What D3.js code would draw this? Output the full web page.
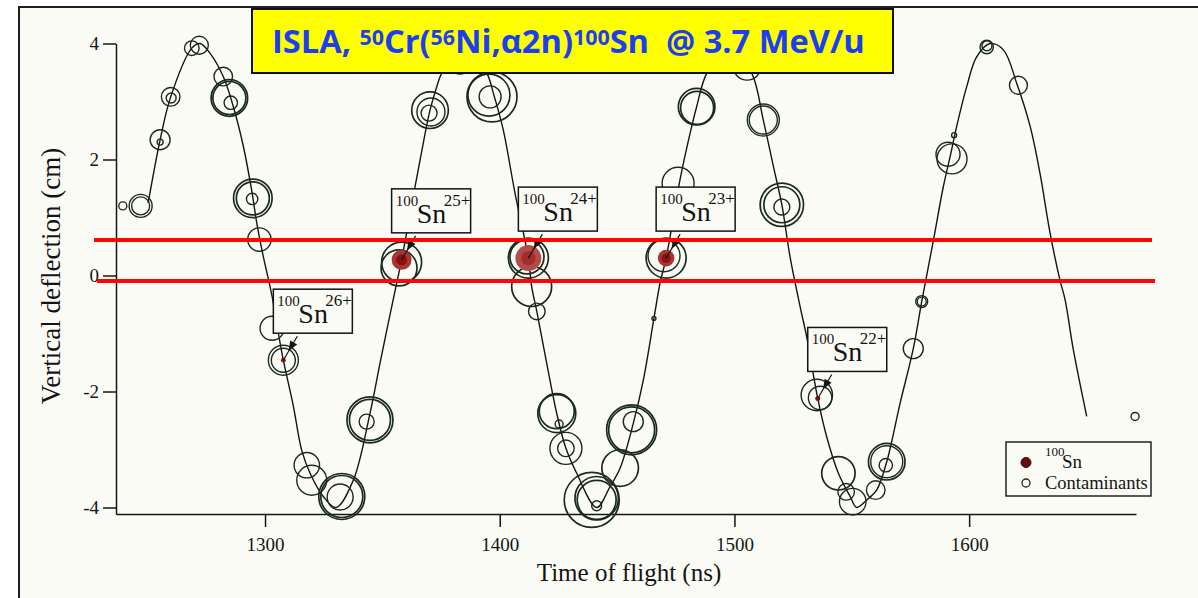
<!DOCTYPE html>
<html>
<head>
<meta charset="utf-8">
<script src="https://cdn.jsdelivr.net/npm/d3@7"></script>
<style>
  html, body { margin: 0; padding: 0; background: #ffffff; }
  svg { display: block; }
  text { white-space: pre; }
</style>
</head>
<body>
<svg id="chart" width="1198" height="598"></svg>
<script>
// ---- axis ticks ----
const xTicks = [1300, 1400, 1500, 1600];
const yTicks = [-4, -2, 0, 2, 4];

// ---- separator transmission curve: time of flight (ns) vs vertical deflection (cm) ----
const orbitTof = [1250.2, 1255.3, 1259.8, 1268.8, 1272.3, 1276.6, 1282.2, 1286.5, 1290.8, 1294.3,
  1296.5, 1299.3, 1302.9, 1305.7, 1307.8, 1312.1, 1315.6, 1319.2, 1324.8, 1330.3,
  1337.6, 1344.7, 1349.0, 1352.5, 1356.1, 1358.2, 1363.9, 1367.4, 1370.3, 1373.2,
  1375.3, 1384.8, 1394.5, 1397.3, 1401.5, 1406.5, 1412.2, 1413.6, 1415.8, 1420.0,
  1424.3, 1428.2, 1432.8, 1441.3, 1447.0, 1451.3, 1456.9, 1461.2, 1465.7, 1468.3,
  1470.9, 1476.8, 1481.1, 1483.9, 1488.2, 1497.7, 1507.4, 1512.3, 1516.6, 1520.2,
  1523.7, 1528.0, 1530.8, 1535.5, 1539.3, 1544.3, 1549.3, 1552.1, 1556.4, 1560.6,
  1564.9, 1570.6, 1576.2, 1579.8, 1584.8, 1589.0, 1591.9, 1594.7, 1599.0, 1603.2,
  1608.9, 1614.6, 1620.3, 1626.0, 1630.2, 1634.5, 1638.7, 1640.9, 1644.4, 1650.1];
const orbitDefl = [1.25, 2.34, 3.08, 3.92, 4.00, 3.83, 3.43, 2.91, 2.22, 1.47,
  0.90, 0.32, -0.34, -1.00, -1.46, -2.26, -3.01, -3.41, -3.81, -4.00,
  -3.53, -2.38, -1.51, -0.82, -0.13, 0.27, 1.53, 2.28, 2.85, 3.26,
  3.49, 4.00, 3.49, 3.14, 2.51, 1.42, 0.30, -0.19, -0.62, -1.51,
  -2.38, -2.98, -3.41, -4.00, -3.64, -3.32, -2.55, -1.80, -0.74, -0.13,
  0.30, 1.65, 2.45, 2.91, 3.49, 4.00, 3.49, 2.68, 1.88, 1.22,
  0.32, -0.54, -1.06, -2.12, -2.78, -3.41, -3.81, -4.00, -3.87, -3.70,
  -3.21, -2.20, -1.26, -0.45, 0.61, 1.53, 2.05, 2.57, 3.26, 3.77,
  4.00, 3.89, 3.31, 2.57, 1.76, 0.73, -0.08, -0.42, -1.28, -2.43];

// ---- contaminant events: [tof (ns), deflection (cm), intensity] ----
const contaminants = [
  [1239.4, 1.20, 2.0], [1247.0, 1.20, 5.75], [1247.0, 1.20, 4.5],
  [1255.3, 2.34, 5.0], [1255.3, 2.30, 1.5], [1259.8, 3.08, 4.65], [1260.0, 3.06, 2.5],
  [1268.8, 3.92, 3.65], [1272.0, 3.97, 4.5], [1282.2, 3.43, 4.65],
  [1284.8, 3.06, 9.15], [1284.8, 3.06, 8.25], [1285.4, 2.98, 3.35],
  [1294.8, 1.33, 9.65], [1294.8, 1.33, 8.25], [1294.5, 1.32, 2.85], [1297.6, 0.62, 5.85],
  [1303.0, -0.91, 6.0], [1307.8, -1.46, 7.5], [1307.8, -1.46, 6.0],
  [1317.8, -3.27, 6.35], [1319.9, -3.53, 7.5],
  [1332.7, -3.81, 11.5], [1332.7, -3.81, 10.5], [1332.0, -3.82, 6.5],
  [1344.7, -2.49, 11.5], [1344.7, -2.49, 10.25], [1343.3, -2.52, 3.75],
  [1358.2, 0.23, 10.0], [1357.1, 0.13, 9.0],
  [1370.3, 2.85, 9.15], [1370.7, 2.82, 7.0], [1369.9, 2.80, 4.0], [1383.1, 3.68, 6.0],
  [1396.7, 3.08, 12.5], [1395.4, 3.11, 10.5], [1395.9, 3.08, 5.5],
  [1412.2, 0.30, 10.0], [1411.6, 0.32, 8.5], [1413.6, -0.19, 10.0], [1415.8, -0.62, 4.15],
  [1424.3, -2.38, 9.5], [1424.3, -2.34, 8.75], [1425.3, -2.56, 2.0],
  [1428.2, -2.98, 8.0], [1428.2, -2.98, 4.15],
  [1439.2, -3.87, 13.75], [1441.3, -3.84, 10.85], [1441.3, -3.87, 9.75], [1441.3, -3.97, 2.5],
  [1451.3, -3.32, 9.15], [1456.2, -2.66, 12.5], [1456.2, -2.66, 11.5], [1456.9, -2.52, 5.0],
  [1465.7, -0.74, 1.0], [1470.9, 0.30, 10.0], [1470.0, 0.34, 8.0], [1476.0, 1.59, 8.0],
  [1483.9, 2.91, 9.15], [1484.1, 2.89, 8.25], [1505.4, 3.61, 7.0],
  [1512.3, 2.68, 8.0], [1512.3, 2.68, 7.0],
  [1520.2, 1.22, 10.85], [1520.2, 1.22, 9.0], [1520.2, 1.18, 4.0],
  [1535.1, -2.06, 7.85], [1536.5, -2.11, 5.85],
  [1544.3, -3.41, 8.35], [1547.6, -3.73, 4.15], [1550.4, -3.90, 6.65], [1560.2, -3.70, 4.65],
  [1564.9, -3.21, 9.15], [1564.9, -3.21, 8.0], [1564.5, -3.27, 3.35],
  [1576.2, -1.26, 5.0], [1579.8, -0.45, 3.0], [1579.8, -0.45, 2.25],
  [1592.7, 2.01, 7.5], [1591.0, 2.09, 6.0], [1593.6, 2.42, 1.25],
  [1607.5, 3.94, 3.35], [1607.6, 3.96, 2.5], [1621.0, 3.28, 4.5],
  [1670.7, -2.43, 2.0]
];

// ---- 100Sn events per charge state ----
const snCharge = ["26+", "25+", "24+", "23+", "22+"];
const snTof = [1307.8, 1358.2, 1412.2, 1470.9, 1535.5];
const snDefl = [-1.46, 0.27, 0.30, 0.30, -2.12];
const snSize = [1.2, 5.0, 6.5, 4.15, 1.25];

// ---- slit acceptance edges (cm) ----
const slitEdges = [0.61, -0.095];

// ---- layout ----
const W = 1198, H = 598;
const bg = "#fbfbf6";
const ink = "#141414";
const ringInk = "#1b2b1b";
const serif = "'Liberation Serif', 'Times New Roman', serif";

const svg = d3.select("#chart");

const x = d3.scaleLinear().domain([1236.5, 1671.1]).range([116, 1136]);
const y = d3.scaleLinear().domain([-4.112, 4]).range([514, 43.5]);
const r = d3.scaleLinear().domain([0, 10]).range([0, 20]);

// page + framed plot panel
svg.append("rect").attr("width", W).attr("height", H).attr("fill", "#ffffff");
svg.append("rect")
  .attr("x", 19).attr("y", 7).attr("width", W).attr("height", H)
  .attr("fill", bg).attr("stroke", "#202020").attr("stroke-width", 2);

// axes
const xAxis = d3.axisBottom(x).tickValues(xTicks).tickSize(13).tickSizeOuter(0).tickPadding(11)
  .tickFormat(d => String(d));
const yAxis = d3.axisLeft(y).tickValues(yTicks).tickSize(13).tickSizeOuter(0).tickPadding(4)
  .tickFormat(d => String(d));

const gx = svg.append("g").attr("transform", `translate(0,${y.range()[0]})`).call(xAxis);
const gy = svg.append("g").attr("transform", `translate(${x.range()[0]},0)`).call(yAxis);
[gx, gy].forEach(g => {
  g.selectAll("path, line").attr("stroke", ink).attr("stroke-width", 1.5);
  g.selectAll("text").attr("fill", ink).attr("font-family", serif).attr("font-size", 19);
});

// axis titles
svg.append("text")
  .attr("x", 629).attr("y", 581)
  .attr("text-anchor", "middle")
  .attr("font-family", serif).attr("font-size", 25).attr("fill", ink)
  .text("Time of flight (ns)");
svg.append("text")
  .attr("transform", "translate(60,276) rotate(-90)")
  .attr("text-anchor", "middle")
  .attr("font-family", serif).attr("font-size", 27).attr("fill", ink)
  .text("Vertical deflection (cm)");

// transmission curve
const orbit = orbitTof.map((t, i) => [t, orbitDefl[i]]);
svg.append("path")
  .datum(orbit)
  .attr("fill", "none")
  .attr("stroke", ink)
  .attr("stroke-width", 1.4)
  .attr("d", d3.line().x(d => x(d[0])).y(d => y(d[1])).curve(d3.curveCatmullRom.alpha(0.5)));

// contaminant rings
svg.append("g").selectAll("circle")
  .data(contaminants)
  .join("circle")
  .attr("cx", d => x(d[0]))
  .attr("cy", d => y(d[1]))
  .attr("r", d => r(d[2]))
  .attr("fill", "none")
  .attr("stroke", ringInk)
  .attr("stroke-width", d => d[2] > 8 ? 1.7 : 1.4);

// 100Sn events
const sn = snCharge.map((c, i) => ({ charge: c, tof: snTof[i], defl: snDefl[i], size: snSize[i] }));
const snG = svg.append("g");
sn.forEach(d => {
  const cx = x(d.tof), cy = y(d.defl), rr = r(d.size);
  if (rr > 5) {
    snG.append("circle").attr("cx", cx).attr("cy", cy).attr("r", rr)
      .attr("fill", rr > 12 ? "#b54a4a" : "#a83434");
    snG.append("circle").attr("cx", cx).attr("cy", cy).attr("r", rr * 0.55)
      .attr("fill", "#8a0c0c").attr("opacity", rr > 12 ? 0.45 : 0.9);
  } else {
    snG.append("circle").attr("cx", cx).attr("cy", cy).attr("r", rr)
      .attr("fill", "#8e0d0d");
  }
});

// charge-state labels with arrows
const boxW = 79, boxH = 44;
sn.forEach(d => {
  const px = x(d.tof), py = y(d.defl);
  const bx = px - 10, by = py - 71;
  const g = svg.append("g");
  g.append("rect").attr("x", bx).attr("y", by).attr("width", boxW).attr("height", boxH)
    .attr("fill", bg).attr("stroke", ink).attr("stroke-width", 1.5);
  g.append("text").attr("x", bx + 4).attr("y", by + 17)
    .attr("font-family", serif).attr("font-size", 15).attr("fill", ink).text("100");
  g.append("text").attr("x", bx + 25).attr("y", by + 34)
    .attr("font-family", serif).attr("font-size", 28).attr("fill", ink).text("Sn");
  g.append("text").attr("x", bx + 52).attr("y", by + 17)
    .attr("font-family", serif).attr("font-size", 17).attr("fill", ink).text(d.charge);

  // arrow from label toward the event
  const sx = bx + 24, sy = by + 47;
  const dx = px - sx, dy = py - sy, len = Math.hypot(dx, dy);
  const ux = dx / len, uy = dy / len;
  g.append("line").attr("x1", sx).attr("y1", sy).attr("x2", px).attr("y2", py)
    .attr("stroke", ink).attr("stroke-width", 1.2);
  const tipX = sx + ux * len * 0.62, tipY = sy + uy * len * 0.62;
  const baseX = tipX - ux * 10, baseY = tipY - uy * 10;
  g.append("path")
    .attr("d", `M${tipX},${tipY} L${baseX - uy * 4},${baseY + ux * 4} L${baseX + uy * 4},${baseY - ux * 4} Z`)
    .attr("fill", ink);
});

// legend
const lg = svg.append("g").attr("transform", "translate(1006,442)");
lg.append("rect").attr("width", 145).attr("height", 54)
  .attr("fill", bg).attr("stroke", ink).attr("stroke-width", 1.4);
lg.append("circle").attr("cx", 20).attr("cy", 20.5).attr("r", 5)
  .attr("fill", "#6e0808").attr("stroke", "#1a1a1a").attr("stroke-width", 1);
lg.append("circle").attr("cx", 20).attr("cy", 41).attr("r", 4)
  .attr("fill", "none").attr("stroke", ringInk).attr("stroke-width", 1.3);
lg.append("text").attr("x", 39).attr("y", 14)
  .attr("font-family", serif).attr("font-size", 13).attr("fill", ink).text("100");
lg.append("text").attr("x", 56).attr("y", 26)
  .attr("font-family", serif).attr("font-size", 19).attr("fill", ink).text("Sn");
lg.append("text").attr("x", 39).attr("y", 47)
  .attr("font-family", serif).attr("font-size", 18.5).attr("fill", ink).text("Contaminants");

// slit acceptance lines
svg.append("g").selectAll("line")
  .data(slitEdges)
  .join("line")
  .attr("x1", (d, i) => x.range()[0] - 22 + i * 3)
  .attr("x2", (d, i) => x.range()[1] + 16 + i * 3)
  .attr("y1", d => y(d)).attr("y2", d => y(d))
  .attr("stroke", "#fe0606").attr("stroke-width", 4);

// title banner
const tg = svg.append("g");
tg.append("rect").attr("x", 252).attr("y", 9).attr("width", 641).attr("height", 64)
  .attr("fill", "#ffff00").attr("stroke", "#111").attr("stroke-width", 2);
const title = tg.append("text")
  .attr("font-family", "'Open Sans', 'Liberation Sans', sans-serif")
  .attr("font-weight", 700).attr("font-size", 32).attr("fill", "#1b3ff0");
const parts = [
  ["ISLA, ", false], ["50", true], ["Cr(", false], ["56", true], ["Ni,α2n)", false],
  ["100", true], ["Sn  @ 3.7 MeV/u", false]
];
let raised = false;
parts.forEach(([s, sup]) => {
  const t = title.append("tspan").text(s);
  if (sup && !raised) { t.attr("dy", -8).attr("font-size", 21); raised = true; }
  else if (!sup && raised) { t.attr("dy", 8); raised = false; }
  else if (sup) { t.attr("font-size", 21); }
});
const tw = title.node().getComputedTextLength();
title.attr("transform", `translate(272,53) scale(${593 / tw},1)`);
</script>
</body>
</html>
